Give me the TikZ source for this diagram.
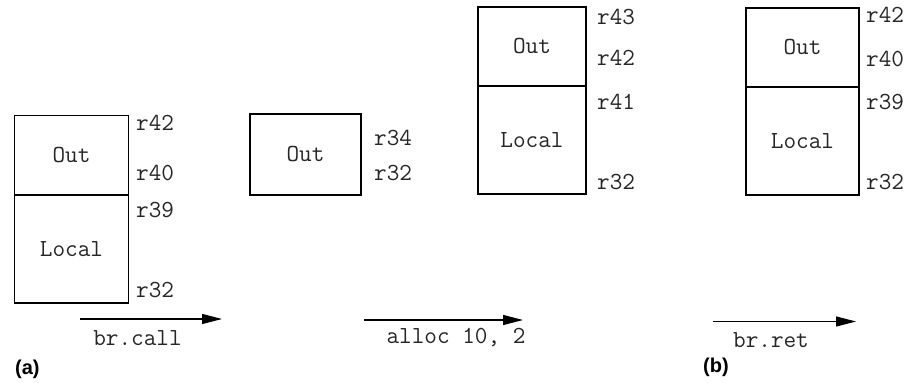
\documentclass[tikz,border=0pt]{standalone}
\usepackage{fontspec}
\newfontfamily\labfont{Liberation Sans}
\usetikzlibrary{arrows.meta}
\tikzset{
  cell/.style={draw, line width=1.2pt, inner sep=0pt, font=\ttfamily\fontsize{24.5}{27}\selectfont, text=black!85},
  reg/.style={anchor=west, inner sep=0pt, font=\ttfamily\fontsize{24.5}{27}\selectfont, text=black!85},
  instr/.style={inner sep=0pt, font=\ttfamily\fontsize{24.5}{27}\selectfont, text=black!85},
  flow/.style={line width=1.2pt, -{Triangle[length=20pt,width=10pt]}},
  part/.style={anchor=west, inner sep=0pt, font=\labfont\bfseries\fontsize{20}{23}\selectfont}
}
\begin{document}
\begin{tikzpicture}[x=1pt,y=-1pt]
\useasboundingbox (0,0) rectangle (906,383);
% Box A
\node[cell, minimum width=114pt, minimum height=79pt] (aout) at (71.5,155) {Out};
\node[cell, minimum width=114pt, minimum height=108pt] (aloc) at (71.5,249) {Local};
\node[reg] (a42) at (136,123) {r42};
\node[reg] (a40) at (136,172.7) {r40};
\node[reg] (a39) at (136,210) {r39};
\node[reg] (a32) at (136,290) {r32};
% Box B
\node[cell, minimum width=111pt, minimum height=81pt] (bout) at (305.5,154.5) {Out};
\node[reg] (b34) at (374,138) {r34};
\node[reg] (b32) at (374,172.7) {r32};
% Box C
\node[cell, minimum width=108pt, minimum height=79pt] (cout) at (532,46.5) {Out};
\node[cell, minimum width=108pt, minimum height=108pt] (cloc) at (532,140) {Local};
\node[reg] (c43) at (597,17) {r43};
\node[reg] (c42) at (597,58) {r42};
\node[reg] (c41) at (597,102) {r41};
\node[reg] (c32) at (597,182) {r32};
% Box D
\node[cell, minimum width=113pt, minimum height=79pt] (dout) at (802.5,47.5) {Out};
\node[cell, minimum width=113pt, minimum height=108pt] (dloc) at (802.5,141) {Local};
\node[reg] (d42) at (866,15) {r42};
\node[reg] (d40) at (866,59) {r40};
\node[reg] (d39) at (866,101.7) {r39};
\node[reg] (d32) at (866,181.7) {r32};
% Arrows
\coordinate (a1s) at (80,319);
\coordinate (a1e) at (222,319);
\draw[flow] (a1s) -- (a1e);
\node[instr] (call) at (137.5,338) {br.call};
\coordinate (a2s) at (364,320);
\coordinate (a2e) at (523,320);
\draw[flow] (a2s) -- (a2e);
\node[instr] (alloc) at (456,338) {alloc 10, 2};
\coordinate (a3s) at (713,321.5);
\coordinate (a3e) at (856,321.5);
\draw[flow] (a3s) -- (a3e);
\node[instr] (ret) at (771,340) {br.ret};
% Part labels
\node[part] (pa) at (15,369) {(a)};
\node[part] (pb) at (703,367) {(b)};
\end{tikzpicture}
\end{document}
